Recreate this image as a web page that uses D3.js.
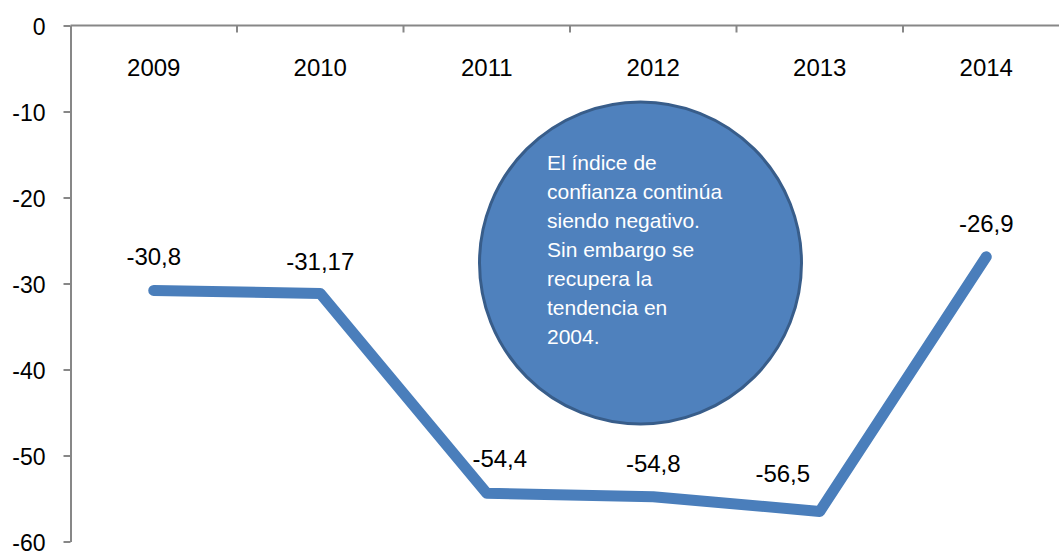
<!DOCTYPE html>
<html>
<head>
<meta charset="utf-8">
<title>Índice de confianza</title>
<script src="https://cdn.jsdelivr.net/npm/d3@7"></script>
<style>
  body { margin: 0; background: #fff; }
  svg { display: block; font-family: "Liberation Sans", Arial, sans-serif; }
</style>
</head>
<body>
<div id="chart"></div>
<script>
// data
var years = ["2009", "2010", "2011", "2012", "2013", "2014"];
var values = [-30.8, -31.17, -54.4, -54.8, -56.5, -26.9];
var valueLabels = ["-30,8", "-31,17", "-54,4", "-54,8", "-56,5", "-26,9"];
var yTicks = [0, -10, -20, -30, -40, -50, -60];
var noteLines = ["El índice de", "confianza continúa", "siendo negativo.",
                 "Sin embargo se", "recupera la", "tendencia en", "2004."];

// label nudges (as placed by hand in the original)
var labelDx = [0, 0, 13, 0, -37, 0];
var labelDy = [-25, -24, -26, -25, -29, -25];

var W = 1059, H = 551;
var svg = d3.select("#chart").append("svg")
    .attr("width", W).attr("height", H);

var x = d3.scaleBand().domain(years).range([70.5, 70.5 + 6 * 166.5]);
var y = d3.scaleLinear().domain([-60, 0]).range([541.5, 25.5]);

var axisColor = "#878787";

// y axis
var yAxis = svg.append("g")
    .attr("transform", "translate(70.5,0)")
    .call(d3.axisLeft(y).tickValues(yTicks).tickSize(7).tickSizeOuter(0).tickPadding(18)
      .tickFormat(function(d) { return String(d); }));
yAxis.select(".domain").attr("stroke", axisColor).attr("stroke-width", 2);
yAxis.selectAll(".tick line").attr("stroke", axisColor).attr("stroke-width", 2);
yAxis.selectAll(".tick text").attr("fill", "#000").style("font-size", "23px")
    .attr("dy", "0.4em");

// x axis along the zero line, ticks at category boundaries
var xg = svg.append("g");
xg.append("line")
    .attr("x1", x.range()[0]).attr("x2", x.range()[1])
    .attr("y1", y(0)).attr("y2", y(0))
    .attr("stroke", axisColor).attr("stroke-width", 2);
xg.selectAll(".xtick")
    .data(years)
    .enter().append("line")
    .attr("class", "xtick")
    .attr("x1", function(d) { return x(d) + x.bandwidth(); })
    .attr("x2", function(d) { return x(d) + x.bandwidth(); })
    .attr("y1", y(0)).attr("y2", y(0) + 7)
    .attr("stroke", axisColor).attr("stroke-width", 2);
xg.selectAll(".xlabel")
    .data(years)
    .enter().append("text")
    .attr("class", "xlabel")
    .attr("x", function(d) { return x(d) + x.bandwidth() / 2; })
    .attr("y", y(0) + 50)
    .attr("text-anchor", "middle")
    .style("font-size", "24px")
    .attr("fill", "#000")
    .text(function(d) { return d; });

// note bubble
var note = svg.append("g");
note.append("ellipse")
    .attr("cx", 640.5).attr("cy", 263)
    .attr("rx", 161).attr("ry", 161)
    .attr("fill", "#4F81BD")
    .attr("stroke", "#385D8A").attr("stroke-width", 3);
note.selectAll("text")
    .data(noteLines)
    .enter().append("text")
    .attr("x", 547)
    .attr("y", function(d, i) { return 170 + i * 29; })
    .attr("fill", "#fff")
    .style("font-size", "21px")
    .text(function(d) { return d; });

// series line
var line = d3.line()
    .x(function(d, i) { return x(years[i]) + x.bandwidth() / 2; })
    .y(function(d) { return y(d); });

svg.append("path")
    .datum(values)
    .attr("d", line)
    .attr("fill", "none")
    .attr("stroke", "#4A7EBB")
    .attr("stroke-width", 11)
    .attr("stroke-linejoin", "round")
    .attr("stroke-linecap", "round");

// data labels
svg.selectAll(".vlabel")
    .data(values)
    .enter().append("text")
    .attr("class", "vlabel")
    .attr("x", function(d, i) { return x(years[i]) + x.bandwidth() / 2 + labelDx[i]; })
    .attr("y", function(d, i) { return y(d) + labelDy[i]; })
    .attr("text-anchor", "middle")
    .style("font-size", "24px")
    .attr("fill", "#000")
    .text(function(d, i) { return valueLabels[i]; });
</script>
</body>
</html>
